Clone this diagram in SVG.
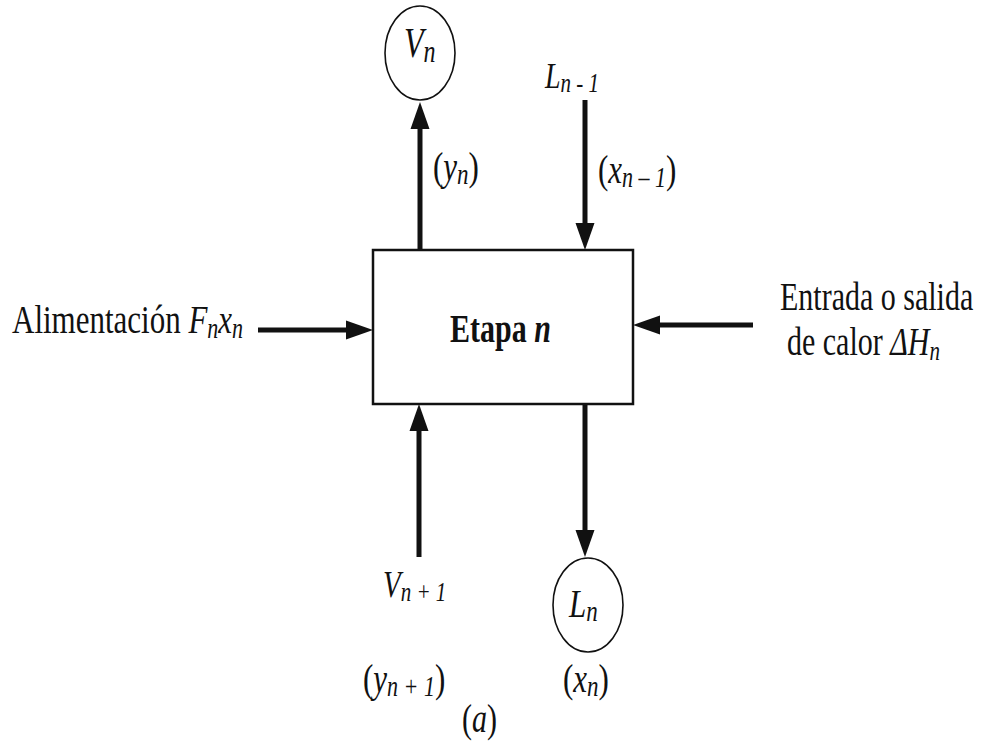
<svg xmlns="http://www.w3.org/2000/svg" width="987" height="752" viewBox="0 0 987 752">
<style>
.t{font-family:'Liberation Serif','Times New Roman',serif;fill:#111}
.i{font-style:italic}
.b{font-weight:bold}
.node{fill:#fff;stroke:#111;stroke-width:1.6}
.box{fill:#fff;stroke:#111;stroke-width:2.5}
.flow{stroke:#111;stroke-width:5;fill:none;marker-end:url(#ah)}
</style>
<defs>
<marker id="ah" viewBox="0 -10 27 20" refX="0" refY="0" markerWidth="27" markerHeight="20" markerUnits="userSpaceOnUse" orient="auto">
<path d="M0,-9.5 L27,0 L0,9.5 z" fill="#111"/>
</marker>
</defs>
<rect width="987" height="752" fill="#fff"/>
<g id="connectors">
<line class="flow" x1="420" y1="250" x2="420" y2="129"/>
<line class="flow" x1="585" y1="100" x2="585" y2="223"/>
<line class="flow" x1="258" y1="330" x2="346" y2="330"/>
<line class="flow" x1="753" y1="325" x2="660" y2="325"/>
<line class="flow" x1="419" y1="557" x2="419" y2="431"/>
<line class="flow" x1="585" y1="404" x2="585" y2="530"/>
</g>
<g id="stage">
<rect class="box" x="373" y="250" width="260" height="154"/>
<text class="t b" transform="translate(450,342) scale(1,1.33)" font-size="30">Etapa <tspan class="i">n</tspan></text>
</g>
<g id="Vn">
<ellipse class="node" cx="420" cy="53" rx="35" ry="47"/>
<text class="t i" transform="translate(404,57) scale(1,1.3)" font-size="32">V<tspan font-size="24" dy="4">n</tspan></text>
</g>
<g id="Ln">
<ellipse class="node" cx="588" cy="605" rx="35" ry="47"/>
<text class="t i" transform="translate(569,617) scale(1,1.3)" font-size="31">L<tspan font-size="23" dy="3">n</tspan></text>
</g>
<g id="Lnm1">
<text class="t i" transform="translate(545,88) scale(1,1.3)" font-size="28">L<tspan font-size="21" dy="3">n - 1</tspan></text>
</g>
<g id="yn">
<text class="t i" transform="translate(433,180) scale(1,1.3)" font-size="31"><tspan font-style="normal">(</tspan>y<tspan font-size="23" dy="3">n</tspan><tspan font-style="normal" dy="-3">)</tspan></text>
</g>
<g id="xnm1">
<text class="t i" transform="translate(598,183) scale(1,1.3)" font-size="31"><tspan font-style="normal">(</tspan>x<tspan font-size="22" dy="3">n – 1</tspan><tspan font-style="normal" dy="-3">)</tspan></text>
</g>
<g id="feed">
<text class="t" transform="translate(12,333) scale(1,1.3)" font-size="31">Alimentación <tspan class="i">F</tspan><tspan class="i" font-size="22" dy="4">n</tspan><tspan class="i" dy="-4">x</tspan><tspan class="i" font-size="22" dy="4">n</tspan></text>
</g>
<g id="heat">
<text class="t" transform="translate(780,310) scale(1,1.3)" font-size="30">Entrada o salida</text>
<text class="t" transform="translate(787,355) scale(1,1.3)" font-size="30">de calor <tspan class="i">ΔH</tspan><tspan class="i" font-size="21" dy="4">n</tspan></text>
</g>
<g id="Vnp1">
<text class="t i" transform="translate(383,597) scale(1,1.3)" font-size="29">V<tspan font-size="21" dy="3">n + 1</tspan></text>
</g>
<g id="ynp1">
<text class="t i" transform="translate(363,692) scale(1,1.3)" font-size="31"><tspan font-style="normal">(</tspan>y<tspan font-size="22" dy="3">n + 1</tspan><tspan font-style="normal" dy="-3">)</tspan></text>
</g>
<g id="xn">
<text class="t i" transform="translate(563,692) scale(1,1.3)" font-size="31"><tspan font-style="normal">(</tspan>x<tspan font-size="23" dy="3">n</tspan><tspan font-style="normal" dy="-3">)</tspan></text>
</g>
<g id="caption">
<text class="t" transform="translate(462,732) scale(1,1.3)" font-size="30">(<tspan class="i">a</tspan>)</text>
</g>
</svg>
